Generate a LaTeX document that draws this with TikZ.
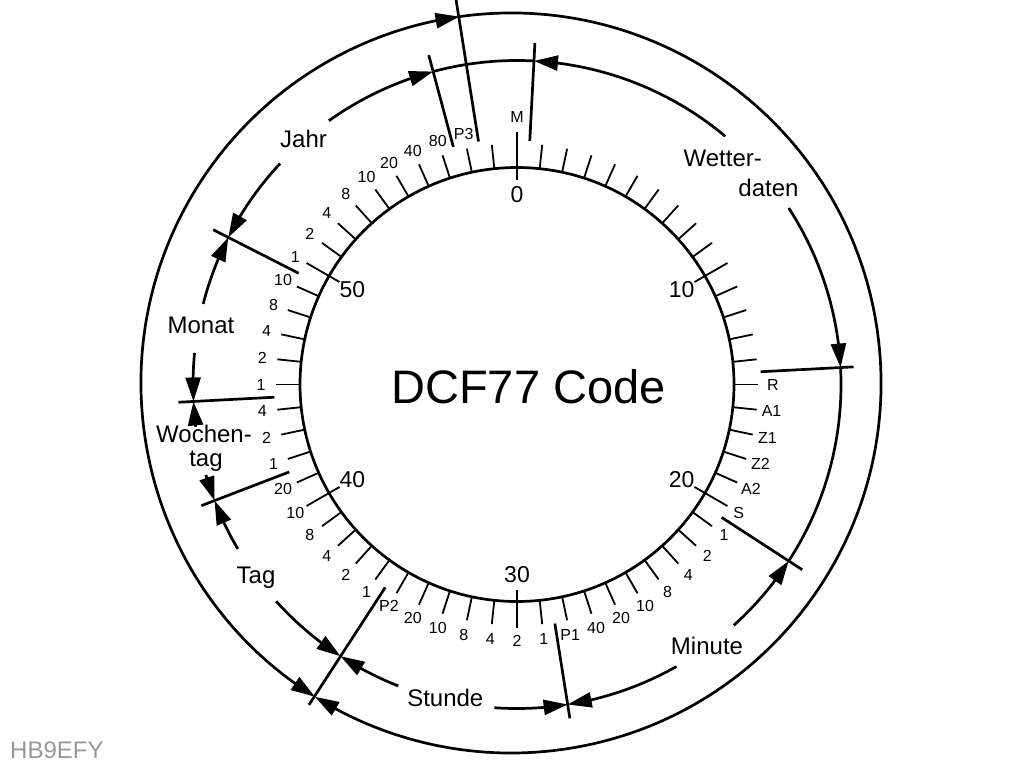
\documentclass[tikz,border=0pt]{standalone}
\usepackage{fontspec}
\setmainfont{Liberation Sans}
\usetikzlibrary{arrows.meta,bending}
\newcommand\dcfTickFont{\fontsize{16}{18}\selectfont}
\newcommand\dcfSegFont{\fontsize{24}{28}\selectfont}
\newcommand\dcfDecFont{\fontsize{23}{26}\selectfont}
\newcommand\dcfarc[4][]{\draw[ring,#1] ({#3-90}:#2) arc[start angle={#3-90},end angle={#4-90},radius=#2];}
\begin{document}
\begin{tikzpicture}[x=1pt,y=-1pt,
  >={Triangle[length=24pt,width=15pt]},
  ring/.style={line width=2.7pt},
  tk/.style={line width=1.8pt},
  sep/.style={line width=2.7pt},
  tl/.style={font=\dcfTickFont,inner sep=0pt},
  dec/.style={font=\dcfDecFont,inner sep=0pt},
  seg/.style={font=\dcfSegFont,inner sep=0pt,anchor=base},
  titlefont/.style={font=\fontsize{47}{52}\selectfont,inner sep=0pt,anchor=base}]
\useasboundingbox (0,0) rectangle (1024,768);
\fill[white] (0,0) rectangle (1024,768);
% inner dial
\begin{scope}[shift={(517,384.5)}]
  \draw[ring] (0,0) circle[radius=217];
  \foreach \i in {0,...,59}{
    \pgfmathtruncatemacro\m{mod(\i,10)}
    \pgfmathsetmacro\a{6*\i-90}
    \ifnum\i=0
      \draw[tk] (\a:205) -- (\a:253);
    \else\ifnum\m=0
      \draw[tk] (\a:205) -- (\a:243);
    \else
      \draw[tk] (\a:217) -- (\a:241);
    \fi\fi
  }
  \node[tl] (labM) at (-90:268) {M};
  \foreach \b/\t in {15/R,16/A1,17/Z1,18/Z2,19/A2,20/S,21/1,22/2,23/4,24/8,25/10,26/20,27/40,28/P1,29/1,30/2,31/4,32/8,33/10,34/20,35/P2,36/1,37/2,38/4,39/8,40/10,41/20,42/1,43/2,44/4,45/1,46/2,47/4,48/8,49/10,50/1,51/2,52/4,53/8,54/10,55/20,56/40,57/80,58/P3}
    \node[tl] (lab\b) at ({6*\b-90}:256) {\t};
  \foreach \b in {0,10,20,30,40,50}
    \node[dec] (dec\b) at ({6*\b-90}:190) {\b};
  % separator lines
  \foreach \t/\ra/\rb in {3/244/342,87/244/337,123/244/340,171/242/338,213/242/382,249/244/338,267/243/339,297/245/341,345/246/341,351/246/390}
    \draw[sep] ({\t-90}:\ra) -- ({\t-90}:\rb);
  % middle ring
  \dcfarc{324}{345}{363}
  \dcfarc[->]{324}{40}{3}
  \dcfarc[->]{324}{57}{87}
  \dcfarc{324}{87}{123}
  \dcfarc[->]{324}{138}{123}
  \dcfarc[->]{324}{150.5}{171}
  \dcfarc[->]{324}{184}{171}
  \dcfarc[->]{324}{201.5}{213}
  \dcfarc[->]{324}{228}{213}
  \dcfarc[->]{324}{239.5}{249}
  \dcfarc[->]{324}{253.8}{249}
  \dcfarc[->]{324}{262.5}{267}
  \dcfarc[->]{324}{275.6}{267}
  \dcfarc[->]{324}{284.4}{297}
  \dcfarc[->]{324}{313}{297}
  \dcfarc[->]{324}{324.5}{345}
\end{scope}
% outer ring
\begin{scope}[shift={(511,383)}]
  \dcfarc[<->]{370}{212}{352}
  \dcfarc[->]{370}{352}{572}
\end{scope}
% segment labels
\node[seg] (wet1) at (722.7,166.7) {Wetter-};
\node[seg] (wet2) at (768.5,196.7) {daten};
\node[seg] (minute) at (707,654) {Minute};
\node[seg] (stunde) at (445.3,706.7) {Stunde};
\node[seg] (tag) at (256,583) {Tag};
\node[seg] (woch1) at (204,442.7) {Wochen-};
\node[seg] (woch2) at (206,466) {tag};
\node[seg] (monat) at (201,333.3) {Monat};
\node[seg] (jahr) at (303.5,147.3) {Jahr};
\node[titlefont] (title) at (528.5,403) {DCF77 Code};
\node[font=\dcfSegFont,inner sep=0pt,anchor=base west,text=black!40] (sig) at (10,758) {HB9EFY};
\end{tikzpicture}
\end{document}
